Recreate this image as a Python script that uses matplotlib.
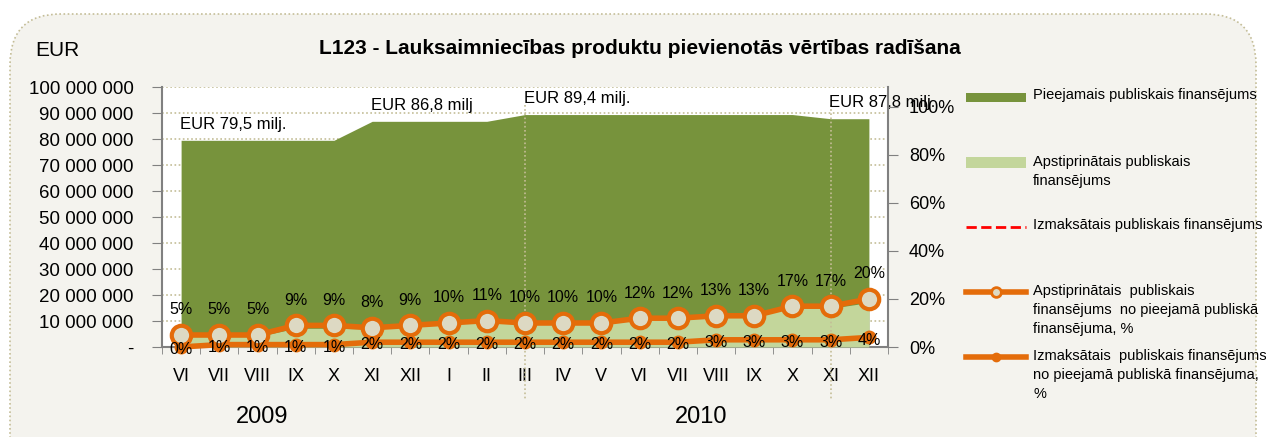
import matplotlib
matplotlib.use("Agg")
import matplotlib.pyplot as plt
from matplotlib.patches import FancyBboxPatch, Rectangle
from matplotlib.lines import Line2D
import numpy as np

plt.rcParams['font.family'] = ['Liberation Sans', 'DejaVu Sans']

# data
months = ["VI", "VII", "VIII", "IX", "X", "XI", "XII", "I", "II", "III",
          "IV", "V", "VI", "VII", "VIII", "IX", "X", "XI", "XII"]
available = [79.5, 79.5, 79.5, 79.5, 79.5, 86.8, 86.8, 86.8, 86.8, 89.4,
             89.4, 89.4, 89.4, 89.4, 89.4, 89.4, 89.4, 87.8, 87.8]   # milj. EUR
approved = [4.0, 4.0, 4.0, 7.2, 7.2, 6.9, 7.8, 8.7, 9.5, 8.9,
            8.9, 8.9, 10.7, 10.7, 11.6, 11.6, 15.2, 14.9, 17.1]      # milj. EUR
paid = [0.3, 0.8, 0.8, 0.8, 0.8, 1.7, 1.7, 1.7, 1.7, 1.8,
        1.8, 1.8, 1.8, 1.8, 2.7, 2.7, 2.7, 2.6, 3.5]                 # milj. EUR
approved_pct = [5, 5, 5, 9, 9, 8, 9, 10, 11, 10, 10, 10, 12, 12, 13, 13, 17, 17, 20]
paid_pct = [0, 1, 1, 1, 1, 2, 2, 2, 2, 2, 2, 2, 2, 2, 3, 3, 3, 3, 4]
amount_notes = [(0, 79.5, "EUR 79,5 milj."), (5, 86.8, "EUR 86,8 milj"),
                (9, 89.4, "EUR 89,4 milj."), (17, 87.8, "EUR 87,8 milj.")]
years = [(2, "2009"), (13.5, "2010")]

dark_green = "#77933C"
light_green = "#C3D69B"
orange = "#E46C0A"
grid_col = "#C4BD97"
bg = "#F4F3EE"

W, H = 1266, 437
fig = plt.figure(figsize=(W / 100, H / 100), dpi=100)
fig.patch.set_facecolor("white")

# rounded dotted frame
frame = FancyBboxPatch((10 / W, -0.2), 1246 / W, 1.2 - 14 / H,
                       boxstyle="round,pad=0,rounding_size=0.04",
                       transform=fig.transFigure, facecolor=bg,
                       edgecolor=grid_col, linestyle=(0, (1, 1.5)), lw=1.2,
                       mutation_aspect=W / H, zorder=-5)
fig.patches.append(frame)

ax = fig.add_axes([162 / W, 1 - 347 / H, 726 / W, 260 / H])
ax.set_facecolor("white")
x = np.arange(len(months))
mil = 1e6

ax.fill_between(x, 0, np.array(available) * mil, color=dark_green, lw=0, zorder=2)
ax.fill_between(x, 0, np.array(approved) * mil, color=light_green, lw=0, zorder=3)
ax.plot(x, np.array(paid) * mil, color="red", ls="--", lw=2, zorder=4)

ax.set_xlim(-0.5, len(months) - 0.5)
ax.set_ylim(0, 100 * mil)
ax.set_yticks(np.arange(0, 101, 10) * mil)
ax.set_yticklabels(["-"] + ["{:,}".format(v).replace(",", " ") for v in range(10000000, 100000001, 10000000)],
                   fontsize=13.5)
ax.yaxis.grid(True, color=grid_col, ls=(0, (1, 1.5)), lw=1.2)
ax.set_axisbelow(True)
ax.set_xticks(x)
ax.set_xticklabels(months, fontsize=13)
ax.set_xticks(np.arange(-0.5, len(months), 1), minor=True)
ax.tick_params(axis="x", which="major", length=0, pad=15)
ax.tick_params(axis="x", which="minor", length=5, color="#808080", direction="out")
ax.tick_params(axis="y", length=7, color="#808080", pad=13.5)
for s in ["top", "right"]:
    ax.spines[s].set_visible(False)
for s in ["left", "bottom"]:
    ax.spines[s].set_color("#808080")
    ax.spines[s].set_linewidth(1.5)

for i in (9, 17):
    ax.plot([i, i], [0.93, -0.2], color=grid_col, ls=(0, (1, 1.5)), lw=1.2,
            transform=ax.get_xaxis_transform(), clip_on=False, zorder=3)

for i, v, t in amount_notes:
    ax.annotate(t, (i, v * mil), xytext=(-1, 6), textcoords="offset points",
                fontsize=12, ha="left", va="bottom", zorder=10, annotation_clip=False)

for xi, yr in years:
    ax.text(xi + 0.12, -0.27, yr, transform=ax.get_xaxis_transform(), fontsize=17,
            ha="center", va="center")

# percentage axis
ax2 = ax.twinx()
ax2.set_ylim(0, 1.083)
ax2.set_yticks(np.arange(0, 1.01, 0.2))
ax2.set_yticklabels(["{:d}%".format(int(round(v * 100))) for v in np.arange(0, 1.01, 0.2)], fontsize=13)
ax2.tick_params(axis="y", length=7, color="#808080", pad=8)
for s in ["top", "left", "bottom"]:
    ax2.spines[s].set_visible(False)
ax2.spines["right"].set_color("#808080")
ax2.spines["right"].set_linewidth(1.5)

p_app = np.array(approved_pct) / 100
p_paid = np.array(paid_pct) / 100
ax2.plot(x, p_paid, color=orange, lw=4, marker="o", ms=9, mfc=orange, mec=orange,
         zorder=5, clip_on=False)
ax2.plot(x, p_app, color=orange, lw=4, marker="o", ms=14, mfc="#DDD9C3", mec=orange,
         mew=3, zorder=6, clip_on=False)
for i in range(len(months)):
    ax2.annotate("{}%".format(approved_pct[i]), (x[i], p_app[i]), xytext=(0, 18),
                 textcoords="offset points", ha="center", va="center", fontsize=11.5, zorder=10)
    ax2.annotate("{}%".format(paid_pct[i]), (x[i], p_paid[i]), xytext=(0, -2),
                 textcoords="offset points", ha="center", va="center", fontsize=11.5, zorder=10)

# titles
fig.text(640 / W, 1 - 48 / H, "L123 - Lauksaimniecības produktu pievienotās vērtības radīšana",
         fontsize=15, fontweight="bold", ha="center", va="center")
fig.text(35 / W, 1 - 50 / H, "EUR", fontsize=15, ha="left", va="center")

# legend
def fy(py):
    return 1 - py / H

lx0, lx1, tx = 966 / W, 1026 / W, 1033 / W
fig.patches.append(Rectangle((lx0, fy(102)), lx1 - lx0, 9 / H, transform=fig.transFigure,
                             facecolor=dark_green, lw=0))
fig.patches.append(Rectangle((lx0, fy(168)), lx1 - lx0, 11 / H, transform=fig.transFigure,
                             facecolor=light_green, lw=0))
fig.lines.append(Line2D([lx0, lx1], [fy(227)] * 2, transform=fig.transFigure,
                        color="red", ls="--", lw=2))
fig.lines.append(Line2D([lx0, lx1], [fy(292)] * 2, transform=fig.transFigure,
                        color=orange, lw=4))
fig.lines.append(Line2D([(lx0 + lx1) / 2], [fy(292)], transform=fig.transFigure,
                        marker="o", ms=7, mfc="#DDD9C3", mec=orange, mew=2))
fig.lines.append(Line2D([lx0, lx1], [fy(357)] * 2, transform=fig.transFigure,
                        color=orange, lw=4))
fig.lines.append(Line2D([(lx0 + lx1) / 2], [fy(357)], transform=fig.transFigure,
                        marker="o", ms=6, mfc=orange, mec=orange))

leg_texts = [(97, "Pieejamais publiskais finansējums"),
             (164, "Apstiprinātais publiskais\nfinansējums"),
             (227, "Izmaksātais publiskais finansējums"),
             (293, "Apstiprinātais  publiskais\nfinansējums  no pieejamā publiskā\nfinansējuma, %"),
             (358, "Izmaksātais  publiskais finansējums\nno pieejamā publiskā finansējuma,\n%")]
for py, t in leg_texts:
    fig.text(tx, fy(py - 9), t, fontsize=10.5, ha="left", va="top", linespacing=1.45)

fig.savefig("out.png", dpi=100, facecolor=fig.get_facecolor())
